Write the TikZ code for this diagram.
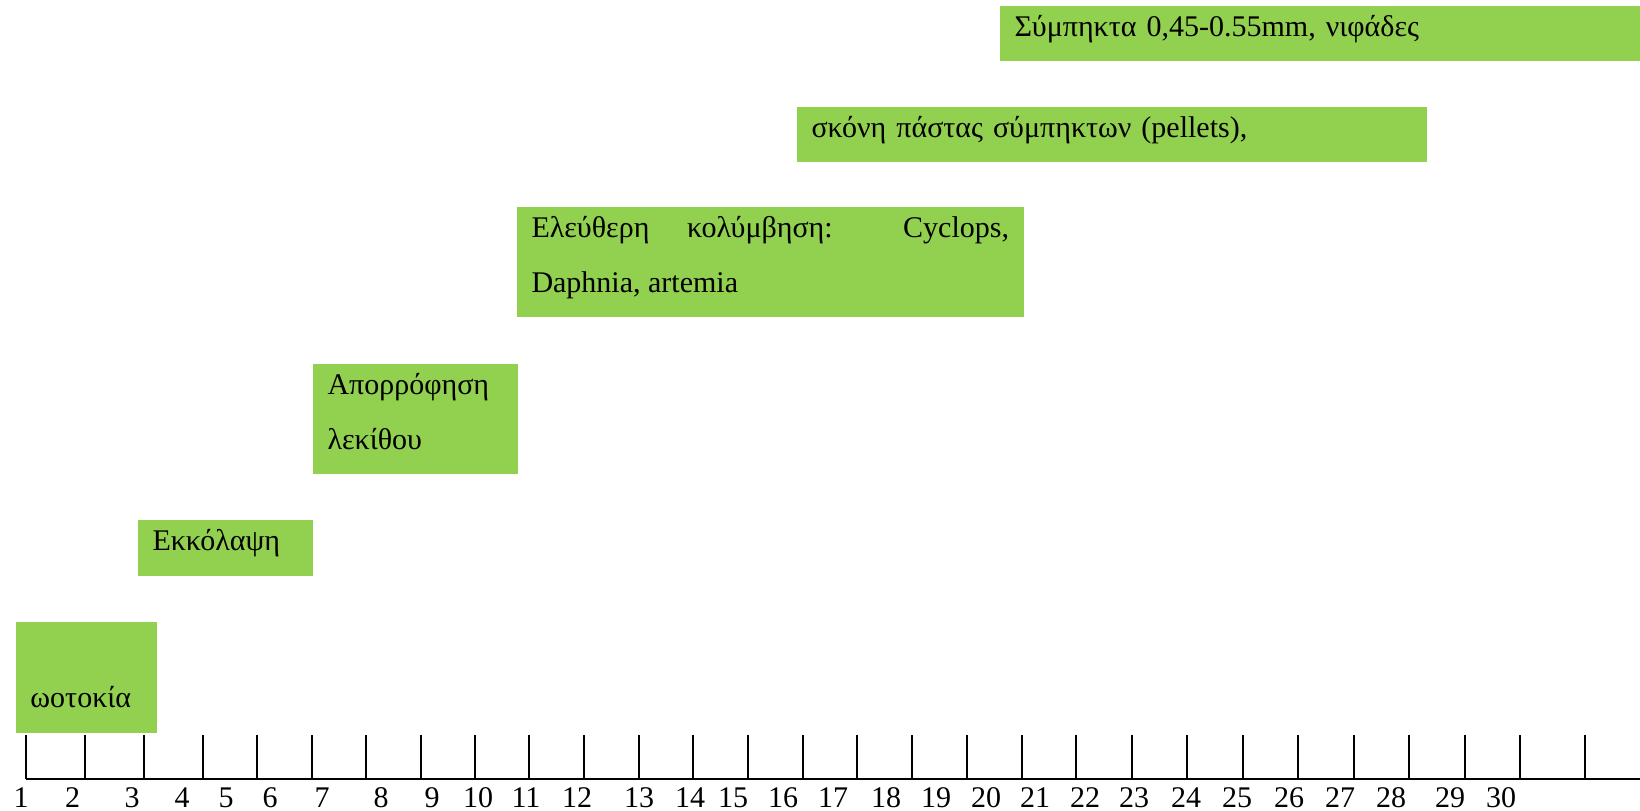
\documentclass[tikz,border=0pt]{standalone}
\usepackage{fontspec}
\setmainfont{Liberation Serif}
\usetikzlibrary{positioning}
\definecolor{StageGreen}{RGB}{146,208,80}
\newcommand{\boxstrut}{\rule[-10pt]{0pt}{22pt}}
\tikzset{
  stage/.style={fill=StageGreen,anchor=north west,inner xsep=6pt,inner ysep=0pt,
    align=left,font=\fontsize{12pt}{22pt}\selectfont},
  daylabel/.style={anchor=base,inner sep=0pt,font=\fontsize{12pt}{14pt}\selectfont},
  axisline/.style={line width=0.8pt,black}
}

\begin{document}
\begin{tikzpicture}[x=0.4pt,y=-0.4pt]
  \useasboundingbox (0,0) rectangle (1640,811);
  % Stages
  \node[stage,text width=44.4pt] (spawning) at (15,622) {\boxstrut\\\boxstrut ωοτοκία};
  \node[stage,text width=58pt] (hatching) at (137,520) {\boxstrut Εκκόλαψη};
  \node[stage,text width=70pt] (yolk) at (312,364) {\boxstrut Απορρόφηση\\\boxstrut λεκίθου};
  \node[stage,text width=191pt,align=justify] (swimming) at (516,207)
    {\boxstrut Ελεύθερη κολύμβηση: Cyclops,\linebreak\boxstrut Daphnia, artemia};
  \node[stage,text width=240pt] (powder) at (796,107) {\boxstrut σκόνη πάστας σύμπηκτων (pellets),};
  \node[stage,text width=244.4pt] (flakes) at (999,6) {\boxstrut Σύμπηκτα 0,45-0.55mm, νιφάδες};
  % Time axis
  \draw[axisline] (26,779) -- (1640,779);
  \foreach \tx in {26,85,144,203,257,312,366,421,475,529,584,639,693,748,803,857,
                   912,967,1022,1076,1132,1187,1243,1298,1354,1409,1465,1520,1585}
    \draw[axisline] (\tx,735) -- (\tx,779);
  % Days
  \foreach \dx [count=\d] in {21,72.5,132,182,226,270,322,381,432,478,526,577,639,690,733,
                              783,833,886,936,986,1035,1085,1134,1186,1237,1289,1340,1391,1450,1501}
    \node[daylabel] (day\d) at (\dx,807) {\d};
\end{tikzpicture}
\end{document}
